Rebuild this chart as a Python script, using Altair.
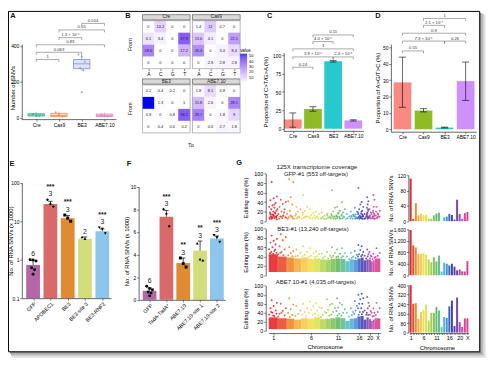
import altair as alt
import pandas as pd

# ======================= values =======================
groups4 = ['Cre', 'Cas9', 'BE3', 'ABE7.10']

# ---- A : number of SNVs (box summaries + replicate points)
A_q1 = [9, 6, 273, 6]
A_med = [15, 12, 300, 11]
A_q3 = [22, 24, 324, 20]
A_lo = [3, 2, 262, 2]
A_hi = [30, 34, 352, 27]
A_pt_group = [1, 1, 1, 2, 2, 2, 3, 3, 3, 3, 3, 3, 4, 4, 4]
A_pt_value = [20, 14, 9, 30, 17, 7, 352, 340, 312, 277, 264, 141, 18, 12, 7]
A_p_from = [1, 1, 1, 2, 2, 3]
A_p_to = [2, 3, 4, 3, 4, 4]
A_p_y = [324, 364, 406, 446, 489, 525]
A_p_text = ['1', '0.063', '0.83', '1.3 × 10⁻⁵', '0.05', '0.014']

# ---- B : substitution matrices (rows = From T,G,C,A ; cols = To A,C,G,T)
B_samples = ['Cre', 'Cas9', 'BE3', 'ABE7.10']
B_from = ['T', 'G', 'C', 'A']
B_to = ['A', 'C', 'G', 'T']
B_cre = [[0, 10.2, 0, 0], [6.1, 3.4, 0, 37.9], [28.6, 0, 0, 17.2], [0, 0, 0, 0]]
B_cas9 = [[1.4, 12, 0.7, 0], [13.6, 4.1, 0, 22.5], [26.4, 0, 3.4, 8.4], [0, 2.8, 2.8, 2.8]]
B_be3 = [[0.2, 0.4, 0.2, 0], [54.8, 1.3, 0, 1], [0.9, 0, 0.8, 38.2], [0, 0.4, 0.6, 0.2]]
B_abe = [[1.8, 8.1, 0.9, 0], [15.8, 2.6, 0, 28.1], [29.7, 0, 1.8, 9], [0, 0.6, 2.7, 1.8]]

# ---- C : proportion C>T/G>A
C_mean = [12.6, 26.9, 92, 11.3]
C_lo = [2, 23.8, 91, 10.4]
C_hi = [21.5, 30, 93, 12.2]
C_p_from = [1, 1, 3, 1, 2, 2]
C_p_to = [2, 3, 4, 4, 3, 4]
C_p_y = [84, 98, 98, 109, 119, 128]
C_p_text = ['0.24', '3.8 × 10⁻⁸', '2.4 × 10⁻⁶', '1', '4.0 × 10⁻⁵', '0.11']

# ---- D : proportion A>G/T>C
D_mean = [28.6, 11.4, 1.0, 29.4]
D_lo = [13.4, 10.6, 0.8, 17.6]
D_hi = [44, 12.6, 1.3, 41]
D_p_from = [1, 1, 3, 1, 2, 2]
D_p_to = [2, 3, 4, 4, 3, 4]
D_p_y = [47.8, 53.8, 53.8, 58.6, 63.4, 67.6]
D_p_text = ['0.55', '7.3 × 10⁻⁵', '0.26', '0.9', '2.1 × 10⁻⁴', '1']

# ---- E : RNA SNVs (x1000), log axis
E_groups = ['GFP', 'APOBEC1', 'BE3', 'BE3-site 3', 'BE3-RNF2']
E_mean = [0.73, 28, 11.9, 3.5, 5.5]
E_err = [0.95, 33, 14, 3.9, 6.3]
E_n = ['6', '3', '3', '2', '3']
E_sig = ['', '***', '***', '', '***']
E_pt_group = [1, 1, 1, 1, 1, 1, 2, 2, 2, 3, 3, 3, 4, 4, 5, 5, 5]
E_pt_value = [1.0, 0.98, 0.92, 0.62, 0.55, 0.42, 36, 28, 24, 14.5, 12, 10, 3.9, 3.5, 6.8, 6.3, 4.8]

# ---- F : RNA SNVs (x1000), linear axis
F_groups = ['GFP', 'TadA-TadA*', 'ABE7.10', 'ABE7.10-site 1', 'ABE7.10-site 2']
F_mean = [0.8, 7.35, 3.25, 4.35, 5.43]
F_err = [1.05, 7.9, 3.7, 5.2, 5.65]
F_n = ['6', '3', '3', '3', '3']
F_sig = ['', '***', '**', '**', '***']
F_pt_group = [1, 1, 1, 1, 1, 1, 2, 2, 2, 3, 3, 3, 4, 4, 4, 5, 5, 5]
F_pt_value = [1.2, 1.0, 0.9, 0.7, 0.6, 0.35, 8.0, 7.6, 6.5, 3.7, 3.2, 2.9, 5.0, 3.6, 3.5, 5.7, 5.5, 5.1]

# ---- G : chromosomes
chrom_labels = [str(i) for i in range(1, 23)] + ['X']
chrom_size = [249, 243, 198, 191, 181, 171, 159, 146, 141, 136, 135, 134, 115, 107, 103, 90, 81, 78, 59, 63, 48, 51, 155]

G_gfp_rates = [
    [82, 52, 48, 44, 38, 33, 30, 28, 25, 22, 20, 18, 16, 14, 12, 11, 10, 9, 8, 7, 6, 5, 4, 12, 15, 9, 6, 25, 35, 10, 8, 14, 5, 18, 7],
    [45, 40, 36, 30, 25, 20, 15, 12, 10, 8, 6, 5, 18, 9, 7, 11],
    [88, 82, 50, 42, 35, 22, 15, 10, 8, 6, 12, 5, 9],
    [30, 25, 20, 12, 8, 6, 5, 10, 15],
    [55, 30, 22, 14, 10, 7, 5, 9, 18],
    [25, 18, 12, 8, 6, 5, 10, 14],
    [20, 15, 10, 7, 5, 8, 12],
    [18, 12, 9, 6, 5, 7],
    [15, 10, 7, 5, 8, 12],
    [65, 28, 20, 15, 10, 8, 6, 5, 12, 9],
    [30, 22, 16, 12, 9, 7, 5, 18, 10, 6],
    [40, 25, 18, 12, 8, 6, 5, 10, 14],
    [15, 10, 6, 5],
    [20, 14, 9, 6, 5, 11],
    [28, 20, 14, 10, 7, 5, 12, 8],
    [70, 35, 25, 18, 12, 9, 6, 5, 15, 10, 7],
    [40, 30, 22, 16, 12, 9, 7, 5, 20, 10, 14, 6],
    [15, 10, 6, 5],
    [50, 42, 35, 28, 22, 18, 14, 10, 8, 6, 5, 12, 25, 16, 9],
    [25, 18, 12, 8, 6, 10],
    [15, 10, 6],
    [55, 45, 30, 22, 15, 10, 7, 5, 18, 12],
    [30, 22, 16, 12, 9, 6, 5, 14, 20, 10, 8],
]
G_be3_band = [45, 40, 38, 36, 38, 35, 36, 34, 33, 35, 36, 35, 30, 34, 33, 36, 38, 32, 34, 33, 30, 32, 36]
G_be3_rates = [
    [85, 78, 74, 70, 66, 60, 56, 52, 50, 48, 46, 47, 55],
    [88, 82, 75, 62, 55, 50, 45, 43, 48],
    [60, 52, 47, 43, 41],
    [55, 48, 42, 40],
    [62, 50, 44, 41],
    [58, 47, 42, 39],
    [52, 45, 41, 39],
    [46, 40, 37],
    [50, 42, 36],
    [60, 48, 42, 38],
    [55, 46, 40, 39],
    [58, 47, 41, 38],
    [40, 35],
    [48, 40, 37],
    [52, 44, 37],
    [65, 54, 45, 40],
    [62, 50, 44, 41],
    [42, 36],
    [55, 45, 40],
    [50, 42, 36],
    [40, 35],
    [46, 38],
    [58, 48, 42, 39],
]
G_abe_band = [30, 28, 27, 25, 28, 27, 30, 26, 27, 28, 30, 28, 22, 27, 28, 32, 33, 25, 30, 26, 22, 25, 28]
G_abe_rates = [
    [68, 62, 55, 50, 45, 40, 36, 33, 42, 38, 34],
    [60, 50, 44, 38, 34, 40, 32],
    [72, 58, 48, 40, 35, 31],
    [55, 45, 38, 33],
    [60, 50, 42, 36, 32],
    [65, 55, 46, 40, 35],
    [62, 52, 45, 38, 34],
    [50, 42, 35, 31],
    [70, 58, 47, 40, 34],
    [60, 50, 42, 36],
    [72, 62, 52, 44, 38, 34],
    [58, 48, 40, 34],
    [40, 32],
    [50, 42, 35],
    [66, 55, 45, 38],
    [80, 70, 60, 50, 42, 36],
    [82, 72, 60, 50, 42, 37],
    [45, 36],
    [75, 62, 50, 40, 35],
    [55, 44, 36],
    [40, 32],
    [50, 40, 33],
    [62, 50, 42, 35],
]
G_bar_gfp = [111, 6, 47, 15, 19, 16, 17, 6, 6, 15, 20, 22, 0, 10, 12, 19, 16, 4, 56, 19, 6, 21, 24]
G_bar_be3 = [1575, 1040, 970, 740, 740, 775, 710, 548, 458, 630, 480, 685, 130, 435, 400, 342, 400, 298, 171, 200, 137, 133, 493]
G_bar_abe = [400, 243, 248, 116, 174, 188, 234, 102, 166, 166, 215, 185, 47, 132, 124, 221, 270, 55, 295, 88, 47, 120, 120]

# ============================== styling ======================================
FONT = 'Liberation Sans'
OX, OY = 8, 8          # page margin: chart origin on the page
W, H = 492, 359

A_colors = ['#27b07e', '#f5874c', '#7f8fd2', '#e07cc0']
C_colors = ['#F8766D', '#7CAE00', '#00BFC4', '#C77CFF']
E_colors = ['#b566a6', '#d96a6a', '#e08a31', '#d3dd7c', '#8dc6ec']
EF_shapes = ['circle', 'diamond', 'square', 'triangle-up', 'triangle-down']
chrom_colors = ['#e8262b', '#ea4c2e', '#f08a2b', '#f6ae3f', '#f8c94a', '#f0e04c', '#d7e24f', '#b6d954',
                '#9bcf55', '#7fc35a', '#65b95e', '#5fbf8f', '#52c3c2', '#4db3e0', '#4a8fd8', '#3e62c4',
                '#4346b2', '#5a3fae', '#7a44b0', '#9a4ab2', '#b84aae', '#d246a0', '#e0408f']


def SX(d0, d1, p0, p1, **kw):
    return alt.Scale(domain=[d0, d1], range=[p0 - OX, p1 - OX], padding=0, **kw)


def SY(d0, d1, p0, p1, **kw):
    return alt.Scale(domain=[d0, d1], range=[p0 - OY, p1 - OY], padding=0, **kw)


AXB = dict(tickSize=2, tickWidth=0.5, tickColor='black', domainColor='black', domainWidth=0.6,
           labelFontSize=5, labelColor='black', labelPadding=1, grid=False, minExtent=0,
           titleFontSize=6, titleFontWeight='normal', titleColor='black', labelFont=FONT,
           titleFont=FONT, zindex=1, labelOverlap=False)


def axL(xp, values, title=None, tx=None, ty=None, **kw):
    d = dict(AXB)
    d.update(orient='left', offset=-(xp - OX), values=values, title=title)
    if title is not None:
        d.update(titleX=tx - xp, titleY=ty - OY, titleBaseline='middle', titleAlign='center')
    d.update(kw)
    return alt.Axis(**d)


def axB(yp, values, title=None, tx=None, ty=None, **kw):
    d = dict(AXB)
    d.update(orient='bottom', offset=(yp - OY) - H, values=values, title=title)
    if title is not None:
        d.update(titleX=tx - OX, titleY=ty - yp, titleBaseline='middle', titleAlign='center')
    d.update(kw)
    return alt.Axis(**d)


def XQ(f, s, ax=None):
    return alt.X(f, type='quantitative', scale=s, axis=ax)


def YQ(f, s, ax=None):
    return alt.Y(f, type='quantitative', scale=s, axis=ax)


def carrier(xs, ys, ax_x, ax_y, x0, y0):
    """Invisible single mark that only carries a panel's axes (same scales as the panel)."""
    return alt.Chart(pd.DataFrame({'x': [x0], 'y': [y0]})).mark_point(opacity=0).encode(
        x=XQ('x', xs, ax_x), y=YQ('y', ys, ax_y))


def brackets(frm, to, yv, text, drop, xs, ys, fs=4.3):
    df = pd.DataFrame({'a': frm, 'b': to, 'y': yv, 't': text})
    df['m'] = (df.a + df.b) / 2
    df['yd'] = df.y - drop
    base = alt.Chart(df)
    rc = dict(color='#555', strokeWidth=0.5)
    h = base.mark_rule(**rc).encode(x=XQ('a', xs), x2='b:Q', y=YQ('y', ys))
    l = base.mark_rule(**rc).encode(x=XQ('a', xs), y=YQ('y', ys), y2='yd:Q')
    r = base.mark_rule(**rc).encode(x=XQ('b', xs), y=YQ('y', ys), y2='yd:Q')
    t = base.mark_text(fontSize=fs, baseline='bottom', dy=-0.5, color='#333').encode(
        x=XQ('m', xs), y=YQ('y', ys), text='t:N')
    return [h, l, r, t]


def jitter(groups, step):
    seen = {}
    out = []
    pattern = [-1, 0, 1, -0.5, 0.5, 0]
    for g in groups:
        k = seen.get(g, 0)
        out.append(g + step * pattern[k % len(pattern)])
        seen[g] = k + 1
    return out


cat_expr = "['','Cre','Cas9','BE3','ABE7.10'][datum.value]"

# ================================ panel A ====================================
Ax = SX(0.36, 4.5, 21.9, 117.6)
Ay = SY(-8, 410, 117.96, 41.7)
dfA = pd.DataFrame({'g': [1, 2, 3, 4], 'q1': A_q1, 'med': A_med, 'q3': A_q3, 'lo': A_lo,
                    'hi': A_hi, 'col': A_colors})
dfA['b0'] = dfA.g - 0.36
dfA['b1'] = dfA.g + 0.36
ptsA = pd.DataFrame({'g': jitter(A_pt_group, 0.14), 'v': A_pt_value,
                     'col': [A_colors[g - 1] for g in A_pt_group]})
colA = alt.Color('col:N', scale=None)
A_box = alt.Chart(dfA).mark_rect(fillOpacity=0.25, strokeWidth=0.8).encode(
    x=XQ('b0', Ax), x2='b1:Q', y=YQ('q1', Ay), y2='q3:Q',
    fill=alt.Fill('col:N', scale=None), stroke=alt.Stroke('col:N', scale=None))
A_w1 = alt.Chart(dfA).mark_rule(strokeWidth=0.7).encode(x=XQ('g', Ax), y=YQ('lo', Ay), y2='q1:Q', color=colA)
A_w2 = alt.Chart(dfA).mark_rule(strokeWidth=0.7).encode(x=XQ('g', Ax), y=YQ('q3', Ay), y2='hi:Q', color=colA)
A_md = alt.Chart(dfA).mark_rule(strokeWidth=0.8).encode(x=XQ('b0', Ax), x2='b1:Q', y=YQ('med', Ay), color=colA)
A_pt = alt.Chart(ptsA).mark_circle(size=4, opacity=0.8).encode(x=XQ('g', Ax), y=YQ('v', Ay), color=colA)
panelA = alt.layer(A_box, A_w1, A_w2, A_md, A_pt,
                   *brackets(A_p_from, A_p_to, A_p_y, A_p_text, 14, Ax, Ay))
axesA = carrier(Ax, Ay, axB(118, [1, 2, 3, 4], labelExpr=cat_expr, labelPadding=2),
                axL(22, [0, 200, 400], 'Number of SNVs', 12.7, 86), 1, 0)

# ================================ panel B ====================================
Bx = SX(0, 8.2, 144.7, 244)
By = SY(0, 9.35, 17.9, 132)
cells, strips, frames = [], [], []
for s_i, (name, mat) in enumerate(zip(B_samples, [B_cre, B_cas9, B_be3, B_abe])):
    xo = 0 if s_i % 2 == 0 else 4.2
    yo = 0 if s_i < 2 else 5.35
    for r in range(4):
        for c in range(4):
            v = mat[r][c]
            cells.append(dict(x0=xo + c, x1=xo + c + 1, y0=yo + r, y1=yo + r + 1,
                              xm=xo + c + 0.5, ym=yo + r + 0.5, v=v, lab=f'{v:g}'))
    strips.append(dict(x0=xo, x1=xo + 4, y0=yo - 0.5, y1=yo - 0.06, xm=xo + 2, ym=yo - 0.28, name=name))
    frames.append(dict(x0=xo, x1=xo + 4, y0=yo, y1=yo + 4))
dfB = pd.DataFrame(cells)
dfS = pd.DataFrame(strips)
dfF = pd.DataFrame(frames)
rowexpr = "['T','G','C','A'][floor(datum.value < 5 ? datum.value : datum.value - 5.35)]"
colexpr = "['A','C','G','T'][floor(datum.value < 4.1 ? datum.value : datum.value - 4.2)]"
B_vals_y = [0.5, 1.5, 2.5, 3.5, 5.85, 6.85, 7.85, 8.85]
B_vals_x = [0.5, 1.5, 2.5, 3.5, 4.7, 5.7, 6.7, 7.7]
B_cells = alt.Chart(dfB).mark_rect().encode(
    x=XQ('x0', Bx, axB(132, B_vals_x, labelExpr=colexpr, domain=False, labelFontSize=5)),
    x2='x1:Q',
    y=YQ('y0', By, axL(144.7, B_vals_y, labelExpr=rowexpr, domain=False, labelFontSize=5)),
    y2='y1:Q',
    color=alt.Color('v:Q', scale=alt.Scale(domain=[0, 54.8], range=['#ffffff', '#0000ff'], interpolate='lab'),
                    legend=alt.Legend(title='value', orient='none', legendX=244 - OX, legendY=46 - OY,
                                      gradientLength=30, gradientThickness=7, labelFontSize=4,
                                      titleFontSize=4.5, titlePadding=1, values=[10, 20, 30, 40, 50],
                                      labelOverlap=False, direction='vertical', titleFont=FONT,
                                      labelFont=FONT, titleFontWeight='normal', zindex=1)))
B_text = alt.Chart(dfB).mark_text(fontSize=4, color='#222').encode(
    x=XQ('xm', Bx), y=YQ('ym', By), text='lab:N')
B_frame = alt.Chart(dfF).mark_rect(fillOpacity=0, stroke='#8a8a8a', strokeWidth=0.6).encode(
    x=XQ('x0', Bx), x2='x1:Q', y=YQ('y0', By), y2='y1:Q')
B_strip = alt.Chart(dfS).mark_rect(fill='#d9d9d9', stroke='#444', strokeWidth=0.6).encode(
    x=XQ('x0', Bx), x2='x1:Q', y=YQ('y0', By), y2='y1:Q')
B_stript = alt.Chart(dfS).mark_text(fontSize=4.8, color='#222').encode(
    x=XQ('xm', Bx), y=YQ('ym', By), text='name:N')
dfFrom = pd.DataFrame({'x': [-1.05, -1.05], 'y': [2.0, 7.35], 't': ['From', 'From']})
B_fromt = alt.Chart(dfFrom).mark_text(fontSize=5.5, angle=270, color='#222').encode(
    x=XQ('x', Bx), y=YQ('y', By), text='t:N')
panelB = alt.layer(B_cells, B_frame, B_text, B_strip, B_stript, B_fromt)
# x labels under the upper facet row (same scale, own axis)
Bx2 = SX(0, 8.2, 144.7, 244)
panelB_top = alt.Chart(pd.DataFrame({'x': [0.5]})).mark_point(opacity=0).encode(
    x=XQ('x', Bx2, axB(66.7, B_vals_x, labelExpr=colexpr, domain=False, labelFontSize=5)))


# ============================ panels C and D =================================
def prop_panel(mean, lo, hi, pf, pt, py_, ptxt, xs, ys, drop):
    df = pd.DataFrame({'g': [1, 2, 3, 4], 'm': mean, 'lo': lo, 'hi': hi, 'col': C_colors, 'base': 0})
    df['c0'] = df.g - 0.17
    df['c1'] = df.g + 0.17
    bars = alt.Chart(df).mark_bar(size=18, opacity=0.85).encode(
        x=XQ('g', xs), y=YQ('m', ys), y2='base:Q', color=alt.Color('col:N', scale=None))
    e = alt.Chart(df).mark_rule(color='black', strokeWidth=0.6).encode(x=XQ('g', xs), y=YQ('lo', ys), y2='hi:Q')
    c1 = alt.Chart(df).mark_rule(color='black', strokeWidth=0.6).encode(x=XQ('c0', xs), x2='c1:Q', y=YQ('lo', ys))
    c2 = alt.Chart(df).mark_rule(color='black', strokeWidth=0.6).encode(x=XQ('c0', xs), x2='c1:Q', y=YQ('hi', ys))
    return alt.layer(bars, e, c1, c2, *brackets(pf, pt, py_, ptxt, drop, xs, ys))


Cx = SX(0.55, 4.5, 288.3, 369.25)
Cy = SY(-3, 104, 129.93, 50.3)
panelC = prop_panel(C_mean, C_lo, C_hi, C_p_from, C_p_to, C_p_y, C_p_text, Cx, Cy, 3.4)
axesC = carrier(Cx, Cy, axB(129.93, [1, 2, 3, 4], labelExpr=cat_expr, labelPadding=1),
                axL(288.3, [0, 25, 50, 75, 100], 'Proportion of C>T/G>A (%)', 270, 90), 1, 0)
Dx = SX(0.45, 4.5, 397.2, 483.9)
Dy = SY(-1.5, 52, 130.8, 41.67)
panelD = prop_panel(D_mean, D_lo, D_hi, D_p_from, D_p_to, D_p_y, D_p_text, Dx, Dy, 1.5)
axesD = carrier(Dx, Dy, axB(130.8, [1, 2, 3, 4], labelExpr=cat_expr, labelPadding=1),
                axL(397.2, [0, 10, 20, 30, 40, 50], 'Proportion of A>G/T>C (%)', 384, 86), 1, 0)


# ============================ panels E and F =================================
def snv_panel(mean, err, ns, sig, pg, pv, colors, xs, ys, base):
    df = pd.DataFrame({'g': list(range(1, 6)), 'm': mean, 'e': err, 'col': colors, 'base': base,
                       'n': ns, 's': sig})
    df['c0'] = df.g - 0.13
    df['c1'] = df.g + 0.13
    pts = pd.DataFrame({'g': pg, 'v': pv})
    df['top'] = [max([e] + list(pts.v[pts.g == g])) for g, e in zip(df.g, df.e)]
    pts['gx'] = jitter(pg, 0.17)
    pts['shape'] = [EF_shapes[g - 1] for g in pg]
    bars = alt.Chart(df).mark_bar(size=14).encode(
        x=XQ('g', xs), y=YQ('m', ys), y2='base:Q', color=alt.Color('col:N', scale=None))
    e = alt.Chart(df).mark_rule(color='black', strokeWidth=0.7).encode(x=XQ('g', xs), y=YQ('m', ys), y2='e:Q')
    cap = alt.Chart(df).mark_rule(color='black', strokeWidth=0.7).encode(x=XQ('c0', xs), x2='c1:Q', y=YQ('e', ys))
    p = alt.Chart(pts).mark_point(filled=True, size=9, color='black', opacity=1).encode(
        x=XQ('gx', xs), y=YQ('v', ys), shape=alt.Shape('shape:N', scale=None))
    tn = alt.Chart(df).mark_text(fontSize=7, baseline='bottom', dy=-2.5, color='#222').encode(
        x=XQ('g', xs), y=YQ('top', ys), text='n:N')
    ts = alt.Chart(df).mark_text(fontSize=7, fontWeight='bold', baseline='bottom', dy=-10, color='#222').encode(
        x=XQ('g', xs), y=YQ('top', ys), text='s:N')
    return alt.layer(bars, e, cap, p, tn, ts)


Ex = SX(0.35, 5.5, 22.06, 112.7)
Ey = SY(0.1, 100, 300, 182.7, type='log')
E_expr = "['','GFP','APOBEC1','BE3','BE3-site 3','BE3-RNF2'][datum.value]"
panelE = snv_panel(E_mean, E_err, E_n, E_sig, E_pt_group, E_pt_value, E_colors, Ex, Ey, 0.1)
axesE = carrier(Ex, Ey, axB(300, [1, 2, 3, 4, 5], labelExpr=E_expr, labelAngle=315, labelFontSize=5.3),
                axL(22.06, [0.1, 1, 10, 100], 'No. of RNA SNVs (x 1000)', 10.7, 241.5, format='~g'), 1, 1)
Fx = SX(0.35, 5.5, 140.8, 228.9)
Fy = SY(0, 10, 301.7, 186.7)
F_expr = "['','GFP','TadA-TadA*','ABE7.10','ABE7.10-site 1','ABE7.10-site 2'][datum.value]"
panelF = snv_panel(F_mean, F_err, F_n, F_sig, F_pt_group, F_pt_value, E_colors, Fx, Fy, 0)
axesF = carrier(Fx, Fy, axB(301.7, [1, 2, 3, 4, 5], labelExpr=F_expr, labelAngle=315, labelFontSize=5.3),
                axL(140.8, [0, 2, 4, 6, 8, 10], 'No. of RNA SNVs (x 1000)', 128, 252), 1, 0)

# ================================ panel G ====================================
starts = []
acc = 0
for s in chrom_size:
    starts.append(acc)
    acc += s
genome = acc
tick_idx = [0, 5, 10, 15, 19, 22]
tick_vals = [starts[i] + chrom_size[i] / 2 for i in tick_idx]
gexpr = "'X'"
for i in reversed(range(len(tick_idx) - 1)):
    gexpr = f"datum.value < {tick_vals[i] + 1:.1f} ? '{chrom_labels[tick_idx[i]]}' : ({gexpr})"

Gx = SX(0, genome, 273, 386.5)


def scatter_row(rates, band, band_lo, ys):
    pts = []
    for ci in range(23):
        for i, v in enumerate(rates[ci]):
            frac = 0.04 + 0.92 * (((i + 0.5) * 0.6180339887) % 1.0)
            pts.append(dict(pos=starts[ci] + frac * chrom_size[ci], v=v, col=chrom_colors[ci]))
    dpts = pd.DataFrame(pts)
    layers = []
    if band is not None:
        dband = pd.DataFrame({'s0': starts, 's1': [a + b for a, b in zip(starts, chrom_size)],
                              'b0': band_lo, 'b1': band, 'col': chrom_colors})
        layers.append(alt.Chart(dband).mark_rect(opacity=0.9).encode(
            x=XQ('s0', Gx), x2='s1:Q', y=YQ('b0', ys), y2='b1:Q',
            color=alt.Color('col:N', scale=None)))
    layers.append(alt.Chart(dpts).mark_circle(size=4, opacity=0.9).encode(
        x=XQ('pos', Gx), y=YQ('v', ys), color=alt.Color('col:N', scale=None)))
    return alt.layer(*layers)


vals100 = [0, 20, 40, 60, 80, 100]
Gy1 = SY(0, 100, 221.7, 173.3)
Gy2 = SY(0, 100, 276.7, 229.3)
Gy3 = SY(0, 100, 333.3, 287.3)
G1 = scatter_row(G_gfp_rates, None, 0, Gy1)
G2 = scatter_row(G_be3_rates, G_be3_band, 7, Gy2)
G3 = scatter_row(G_abe_rates, G_abe_band, 4, Gy3)
axesG1 = carrier(Gx, Gy1, None, axL(270, vals100, 'Editing rate (%)', 249, 197.5, labelFontSize=5.5), 10, 0)
axesG2 = carrier(Gx, Gy2, None, axL(270, vals100, 'Editing rate (%)', 249, 253, labelFontSize=5.5), 10, 0)
axesG3 = carrier(Gx, Gy3, axB(335.5, tick_vals, 'Chromosome', 330, 349.3, labelExpr=gexpr, labelFontSize=5.5),
                 axL(270, vals100, 'Editing rate (%)', 249, 310.3, labelFontSize=5.5), 10, 0)

GBx = SX(0.5, 23.5, 416, 476.3)
bexpr = "datum.value == 23 ? 'X' : (indexof([1,6,11,16,20], datum.value) >= 0 ? '' + datum.value : '')"


def bar_row(vals, ys, ax_y, ax_x=None):
    df = pd.DataFrame({'c': list(range(1, 24)), 'n': vals, 'col': chrom_colors, 'base': 0})
    return alt.Chart(df).mark_bar(size=2).encode(
        x=XQ('c', GBx, ax_x), y=YQ('n', ys, ax_y), y2='base:Q', color=alt.Color('col:N', scale=None))


GB1 = bar_row(G_bar_gfp, SY(0, 120, 221.7, 175), axL(415, [0, 40, 80, 120], 'No. of RNA SNVs', 396.7, 198.3))
GB2 = bar_row(G_bar_be3, SY(0, 1600, 276.7, 230), axL(415, [0, 400, 800, 1200, 1600], 'No. of RNA SNVs', 396.7, 253.3))
GB3 = bar_row(G_bar_abe, SY(0, 400, 335, 286.7),
              axL(415, [0, 80, 160, 240, 320, 400], 'No. of RNA SNVs', 396.7, 310.8),
              axB(335.5, list(range(1, 24)), 'Chromosome', 444, 350, labelExpr=bexpr, tickSize=1.5,
                  labelFontSize=5.5))

# ============================ decorations ====================================
one = pd.DataFrame({'a': [0]})


def box(x0, y0, x1, y1, **kw):
    return alt.Chart(one).mark_rect(**kw).encode(
        x=alt.value(x0 - OX), x2=alt.value(x1 - OX), y=alt.value(y0 - OY), y2=alt.value(y1 - OY))


deco = [
    box(487.5, 10, 489.5, 356, fill='#8c8c8c'),
    box(489.5, 11, 491.5, 358, fill='#b8b8b8'),
    box(491.5, 12, 493.5, 360, fill='#dedede'),
    box(10, 354.5, 489.5, 356.5, fill='#8c8c8c'),
    box(11, 356.5, 491.5, 358.5, fill='#b8b8b8'),
    box(12, 358.5, 493.5, 360.5, fill='#dedede'),
    box(8.5, 8.5, 487.5, 354.5, fillOpacity=0, stroke='black', strokeWidth=1),
]
letters = pd.DataFrame({'t': ['A', 'B', 'C', 'D', 'E', 'F', 'G'],
                        'x': [13, 130, 274, 384, 12, 131, 243],
                        'y': [13, 13, 13, 13, 164, 164, 163]})
letters['x'] -= OX
letters['y'] -= OY
deco.append(alt.Chart(letters).mark_text(fontSize=7.5, fontWeight='bold', color='#111').encode(
    x=alt.X('x:Q', scale=None, axis=None), y=alt.Y('y:Q', scale=None, axis=None), text='t:N'))
notes = pd.DataFrame({'t': ['125X transcriptome coverage', 'GFP-#1  (553 off-targets)',
                            'BE3-#1  (13,240 off-targets)', 'ABE7.10-#1  (4,035 off-targets)', 'To'],
                      'x': [322, 321, 318, 321, 194], 'y': [166.5, 173.5, 229.5, 283.5, 144.5],
                      's': [6.3, 6, 6, 6, 5.5]})
notes['x'] -= OX
notes['y'] -= OY
deco.append(alt.Chart(notes).mark_text(color='#222').encode(
    x=alt.X('x:Q', scale=None, axis=None), y=alt.Y('y:Q', scale=None, axis=None), text='t:N',
    size=alt.Size('s:Q', scale=None)))

chart = alt.layer(
    *deco, panelA, panelB, panelB_top, panelC, panelD, panelE, panelF, G1, G2, G3, GB1, GB2, GB3,
    axesA, axesC, axesD, axesE, axesF, axesG1, axesG2, axesG3
).resolve_scale(
    x='independent', y='independent'
).properties(
    width=W, height=H, autosize=alt.AutoSizeParams(type='none'), padding=0
).configure(font=FONT).configure_view(strokeOpacity=0)

chart.save('out.html', embed_options={'renderer': 'svg', 'actions': False})
